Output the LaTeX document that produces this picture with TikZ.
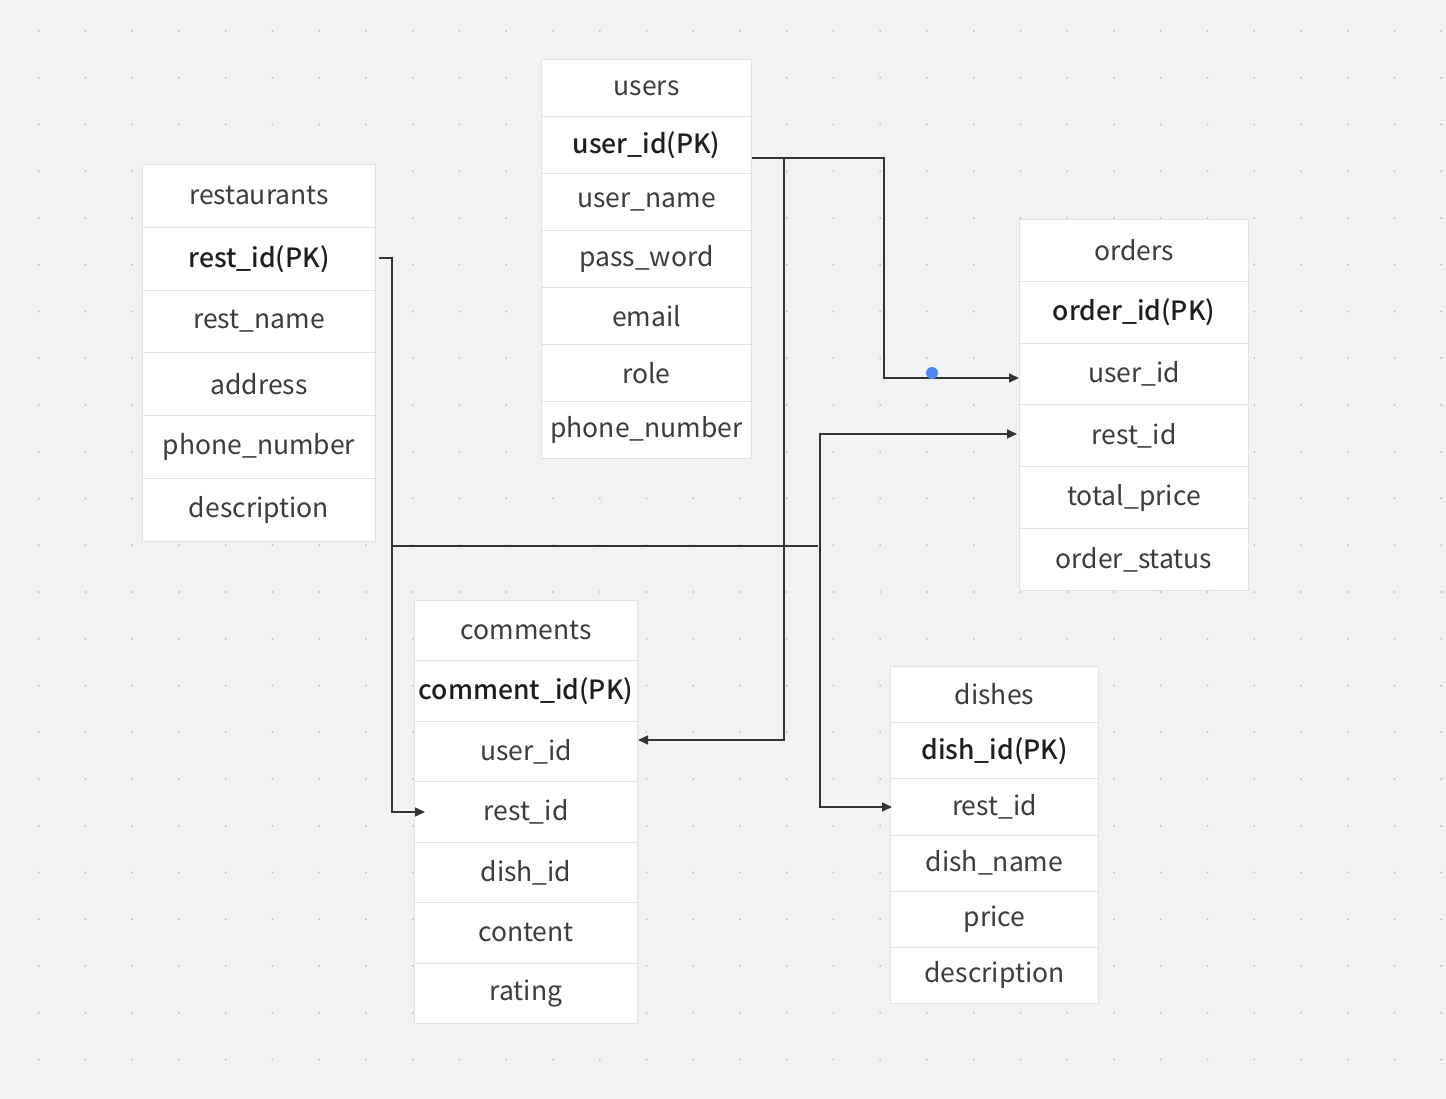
\documentclass[tikz,border=0pt]{standalone}
\usepackage{fontspec}
\setmainfont{Noto Sans CJK SC}[BoldFont={Noto Sans CJK SC Medium}]
\usetikzlibrary{arrows.meta}
\definecolor{bg}{HTML}{F2F2F4}
\definecolor{gridc}{HTML}{C4C4C8}
\definecolor{cellb}{HTML}{E2E2E4}
\definecolor{txt}{HTML}{3C3C3C}
\definecolor{txtb}{HTML}{1E1E1E}
\definecolor{linec}{HTML}{333333}
\definecolor{bluedot}{HTML}{4A8AF4}
\tikzset{
  cell/.style={draw=cellb, line width=1pt, fill=white, inner sep=0pt, anchor=north west,
    text=txt, font=\fontsize{26.5}{30}\selectfont},
  conn/.style={draw=linec, line width=1.5pt},
  tip/.style={-{Triangle[length=10pt,width=9pt]}},
}
\newcommand\ertab[6]{%
  \foreach \t [count=\i from 0] in {#6}{%
    \node[cell, minimum width=#4pt, minimum height=#5pt] (#1-\i) at (#2,{#3+\i*#5})
      {\raisebox{-1.5pt}{\ifnum\i=1 \bfseries\color{txtb}\fi\t}};
  }}
\begin{document}
\begin{tikzpicture}[x=1pt,y=-1pt]
  \fill[bg] (0,0) rectangle (1446,1099);
  \useasboundingbox (0,0) rectangle (1446,1099);
  \foreach \i in {0,...,30}{\foreach \j in {0,...,22}{
    \fill[gridc] ({38.7+\i*46.75},{31+\j*46.75}) circle[radius=1.2pt];}}

  \ertab{users}{541}{59}{210}{57}{users,user\_id(PK),user\_name,pass\_word,email,role,phone\_number}
  \ertab{restaurants}{142}{164}{233}{62.83}{restaurants,rest\_id(PK),rest\_name,address,phone\_number,description}
  \ertab{orders}{1019}{219}{229}{61.83}{orders,order\_id(PK),user\_id,rest\_id,total\_price,order\_status}
  \ertab{comments}{414}{600}{223}{60.43}{comments,comment\_id(PK),user\_id,rest\_id,dish\_id,content,rating}
  \ertab{dishes}{890}{666}{208}{56.17}{dishes,dish\_id(PK),rest\_id,dish\_name,price,description}

  % users.user_id -> orders.user_id and comments.user_id
  \coordinate (jU) at (784,158);
  \draw[conn,tip] (users-1.east |- 0,158) -| (884,378) -- (orders-2.west |- 0,378);
  \draw[conn,tip] (jU) |- (comments-2.east |- 0,740);
  % restaurants.rest_id -> comments.rest_id, orders.rest_id, dishes.rest_id
  \coordinate (jR) at (392,546);
  \coordinate (jR2) at (818,546);
  \draw[conn,tip] ([xshift=3pt]restaurants-1.east |- 0,258) -| (392,812) -- ([xshift=11pt]comments-3.west |- 0,812);
  \draw[conn] (jR) -- (jR2);
  \draw[conn,{Triangle[length=10pt,width=9pt]}-{Triangle[length=10pt,width=9pt]}]
    ([xshift=-2pt]orders-3.west |- 0,434) -| (820,807) -- ([xshift=2pt]dishes-2.west |- 0,807);
  \fill[bluedot] (932,373) circle[radius=6pt];
\end{tikzpicture}
\end{document}
